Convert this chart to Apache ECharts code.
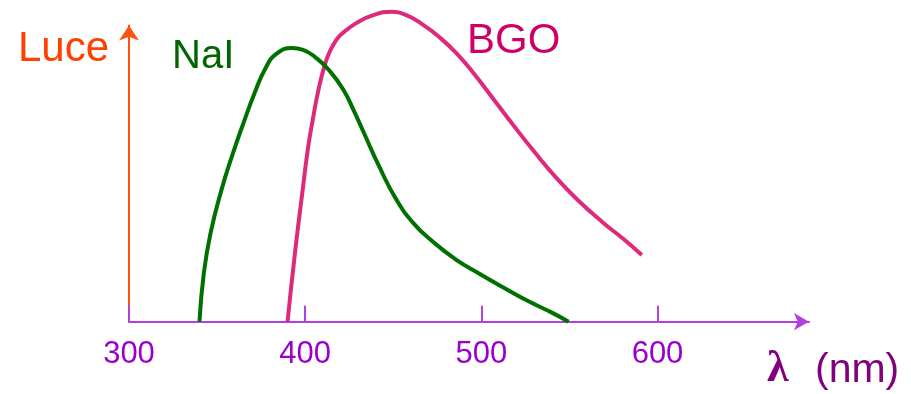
<!DOCTYPE html>
<html>
<head>
<meta charset="utf-8">
<script src="https://cdn.jsdelivr.net/npm/echarts@6/dist/echarts.min.js"></script>
<style>
  html, body { margin: 0; padding: 0; background: #ffffff; }
  #main { width: 911px; height: 394px; }
</style>
</head>
<body>
<div id="main"></div>
<script>
// wavelength (nm) and light output (arbitrary units)
var naiX = [340, 342.5, 346.3, 352.5, 358.8, 365, 371.3, 377.5, 383.8, 392.5, 398.8, 406.3, 413.6, 421.6, 427.8, 433, 442, 451.7, 461.4, 472.7, 485.8, 498.9, 513, 527.1, 540.6, 549.5];
var naiY = [0, 16.5, 29.9, 44.5, 56.5, 67.1, 77.2, 85.6, 90.5, 92.4, 91.8, 89.0, 84.9, 78.4, 71.0, 64.2, 52.4, 41.3, 33.3, 26.9, 20.9, 16.2, 11.4, 6.8, 2.9, 0];
var bgoX = [390, 394.4, 398.8, 401.7, 404.5, 407.9, 410.8, 413.6, 417.6, 421.6, 429, 438.6, 448.9, 457.4, 467, 476.1, 485.8, 495.5, 506.3, 518.2, 530.2, 542.7, 554.7, 568.8, 580.7, 591.1];
var bgoY = [0, 24.2, 45.5, 59.0, 68.8, 79.3, 86.0, 90.7, 95.1, 97.6, 100.8, 103.5, 104.6, 103.5, 100.2, 96.1, 90.7, 84.0, 75.6, 66.3, 57.3, 48.5, 41.1, 33.6, 27.9, 22.5];
var xTicks = [300, 400, 500, 600];

function pairs(xs, ys) {
  var out = [];
  for (var i = 0; i < xs.length; i++) out.push([xs[i], ys[i]]);
  return out;
}

var chart = echarts.init(document.getElementById('main'), null, { renderer: 'canvas' });
var font = '"Liberation Sans", Arial, sans-serif';

var option = {
  animation: false,
  backgroundColor: '#ffffff',
  grid: { left: 129, right: 102, top: 25.5, bottom: 72.3 },
  xAxis: {
    type: 'value',
    min: 300,
    max: 686,
    axisLine: {
      show: true,
      symbol: ['none', 'arrow'],
      symbolSize: [13, 15],
      lineStyle: { color: '#B040E0', width: 2 }
    },
    axisTick: {
      show: true,
      inside: true,
      length: 16,
      customValues: xTicks,
      lineStyle: { color: '#B040E0', width: 2 }
    },
    axisLabel: {
      customValues: xTicks,
      margin: 17,
      color: '#9900CC',
      fontSize: 31,
      fontFamily: font
    },
    splitLine: { show: false }
  },
  yAxis: {
    type: 'value',
    min: 0,
    max: 100,
    axisLine: {
      show: true,
      symbol: ['none', 'arrow'],
      symbolSize: [15, 15],
      lineStyle: { color: '#FF5010', width: 2 }
    },
    axisTick: { show: false },
    axisLabel: { show: false },
    splitLine: { show: false }
  },
  series: [{
    name: 'BGO',
    type: 'line',
    smooth: 0.5,
    clip: false,
    showSymbol: false,
    data: pairs(bgoX, bgoY),
    lineStyle: { color: '#DD2A7B', width: 4 }
  }, {
    name: 'NaI',
    type: 'line',
    smooth: 0.5,
    clip: false,
    showSymbol: false,
    data: pairs(naiX, naiY),
    lineStyle: { color: '#007000', width: 4 }
  }],
  graphic: [{
    type: 'text', left: 18, top: 28,
    style: { text: 'Luce', fill: '#FF4000', font: '42px ' + font }
  }, {
    type: 'text', left: 172, top: 37,
    style: { text: 'NaI', fill: '#006600', font: '40px ' + font }
  }, {
    type: 'text', left: 467, top: 20,
    style: { text: 'BGO', fill: '#CC0066', font: '42px ' + font }
  }, {
    type: 'text', left: 767, top: 348,
    style: { text: 'λ', fill: '#800080', font: 'bold 44px "Liberation Serif", serif' }
  }, {
    type: 'text', left: 815, top: 350,
    style: { text: '(nm)', fill: '#800080', font: '41px ' + font }
  }]
};
chart.setOption(option);
</script>
</body>
</html>
